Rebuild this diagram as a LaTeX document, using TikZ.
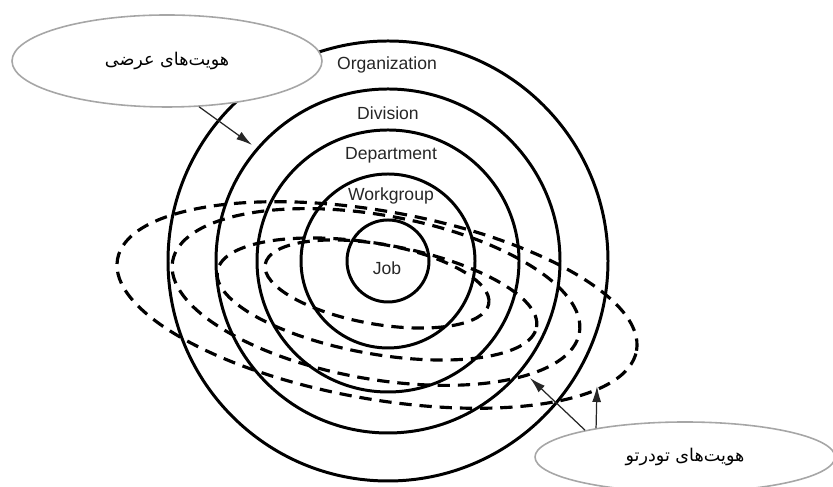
\documentclass[tikz,border=0pt]{standalone}
\usepackage{fontspec}
\setmainfont{Liberation Sans}
\newfontfamily\persianfont[Script=Arabic]{DejaVu Sans}
\TeXXeTstate=1
\usetikzlibrary{arrows.meta,shapes.geometric}

\begin{document}
\begin{tikzpicture}[
  unitring/.style={line width=1.7pt},
  crossring/.style={line width=1.8pt, dash pattern=on 7pt off 4.5pt},
  callout/.style={ellipse, draw=black!35, line width=0.9pt, fill=white, inner sep=0pt, font=\persianfont\fontsize{10}{12}\selectfont},
  lbl/.style={font=\normalsize, text=black!85},
  pointer/.style={draw=black!85, line width=0.7pt, -{Latex[length=3.2mm,width=1.8mm]}}
]
\useasboundingbox (0,0) rectangle (16.66,9.74);
% the cross-cutting identities: tilted dashed ellipses, widest first
\draw[crossring, rotate around={-10:(7.54,3.64)}] (7.54,3.64) ellipse [x radius=5.27, y radius=1.88];
\draw[crossring, rotate around={-10:(7.52,3.80)}] (7.52,3.80) ellipse [x radius=4.13, y radius=1.64];
\draw[crossring, rotate around={-10:(7.54,3.76)}] (7.54,3.76) ellipse [x radius=3.24, y radius=1.10];
\draw[crossring, rotate around={-10:(7.54,4.06)}] (7.54,4.06) ellipse [x radius=2.27, y radius=0.80];
% nested units, all round one centre
\coordinate (c) at (7.76,4.52);
\foreach \r in {0.82,1.74,2.62,3.44,4.40} \draw[unitring] (c) circle (\r);
% unit names, one in each ring
\node[lbl] (org) at (7.74,8.44) {Organization};
\node[lbl] (div) at (7.76,7.48) {Division};
\node[lbl] (dep) at (7.82,6.64) {Department};
\node[lbl] (wgr) at (7.82,5.82) {Workgroup};
\node[lbl] (job) at (7.74,4.38) {Job};
% callouts and where they point
\node[callout, minimum width=6.2cm, minimum height=1.84cm] (lateral) at (3.34,8.52) {\beginR هویت^^^^200cهای عرضی\endR};
\node[callout, minimum width=6cm, minimum height=1.4cm] (nested) at (13.70,0.60) {\beginR هویت^^^^200cهای تودرتو\endR};
\coordinate (divtip) at (5.04,6.84);
\coordinate (midtip) at (10.60,2.18);
\coordinate (outtip) at (11.94,2.02);
\draw[pointer] (lateral.-55) -- (divtip);
\draw[pointer] (nested.165) -- (midtip);
\draw[pointer] (nested.162) -- (outtip);
\end{tikzpicture}
\end{document}
